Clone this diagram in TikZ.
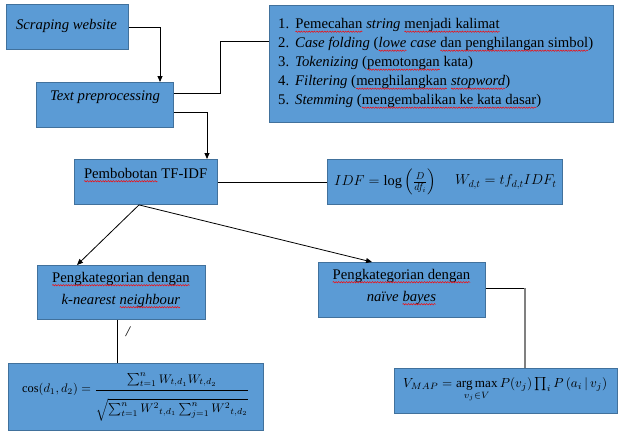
\documentclass[tikz,border=0pt]{standalone}
\usepackage{amsmath}
\usepackage{graphicx}
\usepackage{fontspec}
\IfFontExistsTF{LiberationSerif-Regular.ttf}{\setmainfont{LiberationSerif-Regular.ttf}[ItalicFont=LiberationSerif-Italic.ttf,BoldFont=LiberationSerif-Bold.ttf,BoldItalicFont=LiberationSerif-BoldItalic.ttf]}{\setmainfont{Liberation Serif}}
\usetikzlibrary{arrows.meta,calc,decorations.pathmorphing}
\definecolor{boxfill}{HTML}{5B9BD5}
\definecolor{boxline}{HTML}{41719C}
\newsavebox\sqbox
\newdimen\sqw
\newcommand\sq[1]{\sbox\sqbox{#1}\sqw=\wd\sqbox\tikz[baseline=0pt,x=1pt,y=1pt]{\node[anchor=base west,inner sep=0pt,outer sep=0pt] at (0,0) {\usebox\sqbox};\draw[red, line width=0.45pt, decorate, decoration={snake, amplitude=0.7pt, segment length=2.6pt}] (0,-3.2) -- (\sqw,-3.2);}}
\tikzset{
  box/.style={draw=boxline, fill=boxfill, line width=0.9pt, inner sep=0pt, anchor=north west},
  txt/.style={inner sep=0pt, font=\fontsize{14.7}{17}\selectfont},
  mth/.style={inner sep=0pt, anchor=west},
  mths/.style={inner sep=0pt, anchor=west, font=\fontsize{14.4}{17}\selectfont},
  twoline/.style={inner sep=0pt, align=center, font=\fontsize{14.7}{22}\selectfont},
  conn/.style={line width=0.8pt, black},
  arr/.style={conn, -{Triangle[length=6pt,width=5pt]}},
}
\begin{document}
\begin{tikzpicture}[x=1pt,y=-1pt]
\useasboundingbox (0,0) rectangle (624,437);
% boxes
\node[box, minimum width=122pt, minimum height=45pt] (sw) at (6,4) {};
\node[box, minimum width=137pt, minimum height=45pt] (tp) at (36,82) {};
\node[box, minimum width=344pt, minimum height=117pt] (list) at (269,5) {};
\node[box, minimum width=143pt, minimum height=45pt] (tfidf) at (74,159) {};
\node[box, minimum width=235pt, minimum height=45pt] (idf) at (327,159) {};
\node[box, minimum width=168pt, minimum height=54pt] (knn) at (37,265) {};
\node[box, minimum width=255pt, minimum height=67pt] (cos) at (8,363) {};
\node[box, minimum width=167pt, minimum height=55pt] (nb) at (318,262) {};
\node[box, minimum width=223pt, minimum height=45pt] (vmap) at (394,368) {};
% texts
\node[txt] (swt) at (66.5,26) {\itshape Scraping website};
\node[txt] (tpt) at (105,97) {\itshape Text preprocessing};
\node[txt, anchor=base west] (l1) at (278,28.5) {\makebox[17pt][l]{1.}\sq{Pemecahan} \textit{string} \sq{menjadi kalimat}};
\node[txt, anchor=base west] (l2) at (278,47.5) {\makebox[17pt][l]{2.}\textit{Case folding} (\textit{\sq{lowe} case} \sq{dan penghilangan simbol})};
\node[txt, anchor=base west] (l3) at (278,66.5) {\makebox[17pt][l]{3.}\textit{Tokenizing} (\sq{pemotongan} kata)};
\node[txt, anchor=base west] (l4) at (278,85.5) {\makebox[17pt][l]{4.}\textit{Filtering} (\sq{menghilangkan} \textit{\sq{stopword}})};
\node[txt, anchor=base west] (l5) at (278,104.5) {\makebox[17pt][l]{5.}\textit{Stemming} (\sq{mengembalikan ke kata dasar})};
\node[txt] (tft) at (145.5,175) {\sq{Pembobotan} TF-IDF};
\node[mths] (f1) at (334,182) {$IDF=\log\left(\frac{D}{df_i}\right)$};
\node[mths] (f2) at (455,182) {$W_{d,t}=tf_{d,t}IDF_t$};
\node[twoline] (knnt) at (121,290) {\sq{Pengkategorian dengan}\\ \textit{k-nearest \sq{neighbour}}};
\node[twoline] (nbt) at (401.5,287) {\sq{Pengkategorian dengan}\\ \textit{naïve \sq{bayes}}};
\node[mth] (f3) at (22,397) {\resizebox{227pt}{!}{$\cos(d_1,d_2)=\dfrac{\sum_{t=1}^n W_{t,d_1}W_{t,d_2}\rule[-4pt]{0pt}{12pt}}{\sqrt{\sum_{t=1}^n {W^2}_{t,d_1}\sum_{j=1}^n {W^2}_{t,d_2}}\rule{0pt}{17pt}}$}};
\node[mth] (f4) at (403,390) {\resizebox{204pt}{!}{$\displaystyle V_{MAP}=\mathop{\mathrm{arg\,max}}\limits_{v_j\in V} P(v_j)\textstyle\prod_i P\left(a_i\,|\,v_j\right)$}};
\node[txt] (sl) at (128,332) {\itshape /};
% connectors
\coordinate (c1) at (160,0);
\draw[arr] (sw.east) -| (c1 |- tp.north);
\coordinate (c2a) at (220,93);
\coordinate (c2b) at (220,41);
\draw[conn] (tp.east |- c2a) -- (c2a) -- (c2b) -- (list.west |- c2b);
\coordinate (c3) at (207,112);
\draw[arr] (tp.east |- c3) -- (c3) -- (c3 |- tfidf.north);
\draw[conn] (tfidf.east) -- (idf.west);
\coordinate (c4) at (139,0);
\coordinate (c5) at (77,0);
\coordinate (c6) at (372,0);
\draw[arr] (c4 |- tfidf.south) -- (c5 |- knn.north);
\draw[arr] (c4 |- tfidf.south) -- (c6 |- nb.north);
\coordinate (c7) at (117,0);
\draw[conn] (c7 |- knn.south) -- (c7 |- cos.north);
\coordinate (c8) at (525,288);
\draw[conn] (nb.east |- c8) -- (c8);
\draw[line width=1.4pt, gray] (c8) -- (c8 |- vmap.north);
\end{tikzpicture}
\end{document}
